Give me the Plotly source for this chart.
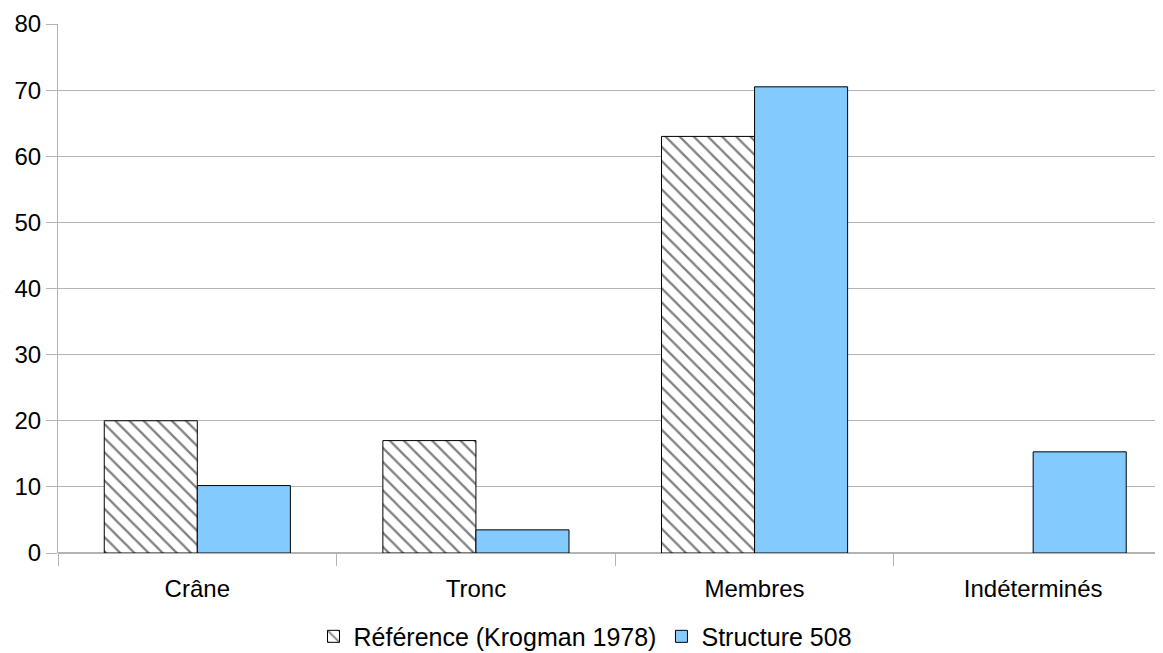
import plotly.graph_objects as go

categories = ["Crâne", "Tronc", "Membres", "Indéterminés"]
reference_values = [20, 17, 63, None]
structure_values = [10.2, 3.5, 70.5, 15.3]
y_ticks = [0, 10, 20, 30, 40, 50, 60, 70, 80]

FONT = "Liberation Sans, Arial, sans-serif"

fig = go.Figure()
fig.add_trace(go.Bar(
    x=categories, y=reference_values, name="Référence (Krogman 1978)",
    marker=dict(color="white", line=dict(color="black", width=1),
                pattern=dict(shape="\\", fgcolor="black", bgcolor="white",
                             size=10, solidity=0.22)),
))
fig.add_trace(go.Bar(
    x=categories, y=structure_values, name="Structure 508",
    marker=dict(color="#83caff", line=dict(color="black", width=1)),
))

fig.update_layout(
    width=1155, height=645,
    margin=dict(l=50, r=0, t=16, b=100, autoexpand=False),
    paper_bgcolor="white", plot_bgcolor="white",
    barmode="group", bargap=0.332, bargroupgap=0,
    font=dict(family=FONT, size=24, color="black"),
    legend=dict(orientation="h", xref="container", x=0.5, xanchor="center",
                y=-0.158, yanchor="middle",
                font=dict(size=25), itemwidth=30, traceorder="normal"),
    showlegend=True,
)
fig.update_xaxes(
    range=[-0.5, 3.466], showgrid=False, showline=False, zeroline=False,
    ticks="outside", tickson="boundaries", ticklen=12, tickcolor="#b3b3b3",
    tickfont=dict(size=24), automargin=False, ticklabelstandoff=19,
)
fig.update_yaxes(
    range=[0, 80], tickvals=y_ticks, showgrid=True, gridcolor="#b3b3b3", gridwidth=1,
    showline=True, linecolor="#b3b3b3", linewidth=1, zeroline=True, zerolinecolor="#b3b3b3",
    ticks="outside", ticklen=11, tickcolor="#b3b3b3", tickfont=dict(size=24),
    automargin=False,
)

fig.write_html("out.html")
